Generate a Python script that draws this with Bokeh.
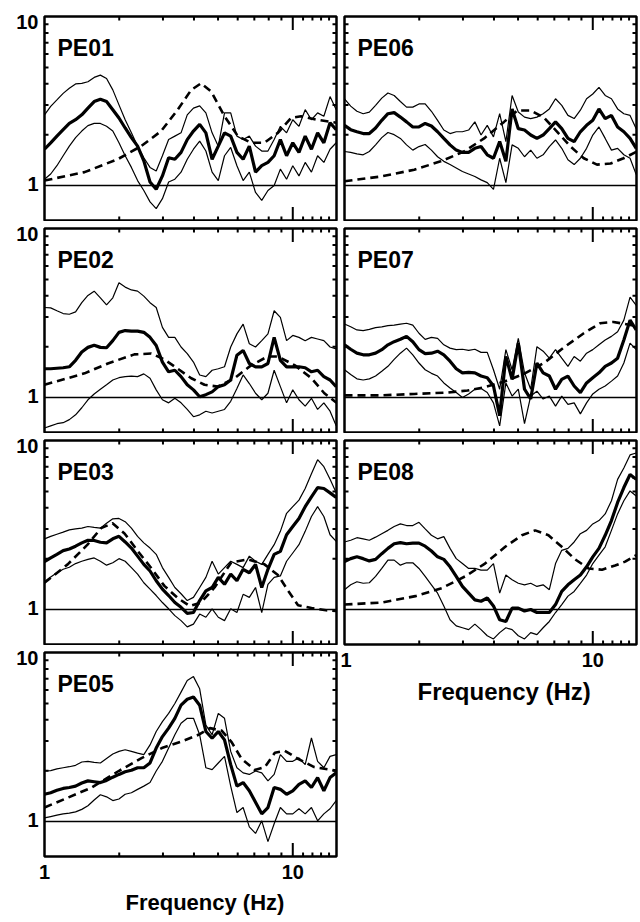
from bokeh.plotting import figure
from bokeh.layouts import column, row
from bokeh.models import (FixedTicker, Span, Label, Title, PrintfTickFormatter,
                          CustomJSTickFormatter, Range1d)
from bokeh.embed import file_html
from bokeh.resources import INLINE

FONT = "Liberation Sans"

# Common frequency grid (Hz) for the measured curves
freq = [1.0, 1.059, 1.122, 1.189, 1.259, 1.334, 1.413, 1.496, 1.585, 1.679,
        1.778, 1.884, 1.995, 2.113, 2.239, 2.371, 2.512, 2.661, 2.818, 2.985,
        3.162, 3.35, 3.548, 3.758, 3.981, 4.217, 4.467, 4.732, 5.012, 5.309,
        5.623, 5.957, 6.31, 6.683, 7.079, 7.499, 7.943, 8.414, 8.913, 9.441,
        10.0, 10.59, 11.22, 11.89, 12.59, 13.34, 14.13, 14.96]

# ---------------- PE01 ----------------
pe01_mean = [1.64, 1.79, 1.96, 2.14, 2.33, 2.45, 2.62, 2.87, 3.14, 3.24, 3.14, 2.81, 2.51, 2.19, 1.92, 1.71,
             1.40, 1.05, 0.95, 1.14, 1.46, 1.43, 1.57, 1.87, 2.10, 2.30, 2.05, 1.43, 1.71, 2.05, 1.96, 1.57,
             1.43, 1.71, 1.20, 1.31, 1.37, 1.50, 1.87, 1.50, 1.79, 1.57, 1.96, 1.64, 2.05, 1.79, 2.35, 2.14]
pe01_upper = [2.62, 2.94, 3.21, 3.51, 3.76, 3.99, 4.02, 4.11, 4.36, 4.50, 4.30, 3.68, 3.00, 2.45, 2.05, 1.71,
              1.46, 1.28, 1.22, 1.50, 1.87, 1.96, 2.05, 2.62, 2.87, 2.96, 2.69, 2.05, 1.71, 2.69, 2.69, 1.96,
              1.87, 1.96, 1.71, 1.60, 1.60, 1.87, 2.24, 2.05, 2.45, 2.24, 2.81, 2.45, 2.69, 2.57, 3.36, 2.81]
pe01_lower = [1.09, 1.17, 1.31, 1.50, 1.71, 1.92, 2.10, 2.26, 2.33, 2.33, 2.24, 2.10, 1.79, 1.50, 1.28, 1.07,
              0.935, 0.80, 0.73, 0.836, 1.05, 1.09, 1.20, 1.43, 1.64, 1.83, 1.60, 1.20, 1.07, 1.50, 1.68, 1.31,
              1.07, 1.20, 0.91, 0.817, 0.935, 1.00, 1.25, 1.09, 1.31, 1.14, 1.37, 1.20, 1.50, 1.37, 1.64, 1.79]
pe01_th_f = [1.0, 1.45, 1.97, 2.45, 2.95, 3.44, 3.90, 4.27, 4.69, 5.31, 6.01, 6.79, 7.69, 8.71, 9.85, 10.8, 12.5, 15.0]
pe01_th = [1.07, 1.20, 1.43, 1.71, 2.10, 2.81, 3.68, 4.02, 3.60, 2.57, 1.96, 1.79, 1.79, 2.05, 2.51, 2.57, 2.45, 2.35]

# ---------------- PE02 ----------------
pe02_mean = [1.48, 1.48, 1.49, 1.50, 1.52, 1.66, 1.86, 1.98, 2.04, 1.98, 1.97, 2.17, 2.43, 2.49, 2.47, 2.47,
             2.43, 2.27, 2.03, 1.62, 1.42, 1.45, 1.33, 1.19, 1.11, 1.01, 1.04, 1.08, 1.16, 1.19, 1.27, 1.78,
             1.90, 1.59, 1.52, 1.52, 1.59, 2.27, 1.66, 1.52, 1.52, 1.52, 1.50, 1.42, 1.45, 1.33, 1.27, 1.16]
pe02_upper = [3.41, 3.39, 3.26, 3.14, 3.11, 3.21, 3.64, 4.02, 4.26, 3.89, 3.53, 3.89, 4.77, 4.50, 4.33, 4.26,
              3.98, 3.64, 3.41, 2.60, 2.27, 2.27, 1.99, 1.82, 1.62, 1.36, 1.33, 1.45, 1.48, 1.52, 1.99, 2.38,
              2.72, 2.08, 1.99, 2.17, 2.38, 3.26, 2.98, 2.17, 2.33, 2.27, 2.17, 2.27, 2.22, 2.17, 1.99, 1.94]
pe02_lower = [0.66, 0.68, 0.70, 0.71, 0.74, 0.79, 0.87, 0.97, 1.05, 1.12, 1.19, 1.27, 1.31, 1.33, 1.34, 1.33,
              1.38, 1.30, 1.11, 0.97, 0.93, 0.99, 0.93, 0.85, 0.77, 0.79, 0.83, 0.81, 0.83, 0.85, 0.95, 1.13,
              1.36, 1.21, 1.06, 0.97, 1.06, 1.45, 1.16, 0.93, 1.11, 0.97, 0.89, 0.99, 0.85, 0.93, 0.83, 0.68]
pe02_th_f = [1.0, 1.45, 1.80, 2.30, 2.69, 3.04, 3.44, 3.90, 4.41, 4.99, 5.82, 6.79, 7.93, 8.71, 10.2, 11.9, 13.4, 15.0]
pe02_th = [1.19, 1.39, 1.59, 1.80, 1.82, 1.68, 1.48, 1.30, 1.19, 1.16, 1.30, 1.55, 1.75, 1.75, 1.55, 1.30, 1.06, 0.93]

# ---------------- PE03 ----------------
pe03_mean = [1.92, 2.02, 2.12, 2.23, 2.28, 2.37, 2.48, 2.57, 2.56, 2.50, 2.48, 2.62, 2.71, 2.51, 2.31, 2.07,
             1.85, 1.69, 1.48, 1.32, 1.21, 1.10, 1.03, 0.95, 0.96, 1.13, 1.29, 1.35, 1.55, 1.41, 1.62, 1.48,
             1.73, 1.65, 1.85, 1.35, 1.73, 2.12, 2.21, 2.77, 3.10, 3.46, 4.06, 4.64, 5.26, 5.20, 4.90, 4.60]
pe03_upper = [2.62, 2.71, 2.79, 2.87, 2.96, 3.00, 3.03, 3.10, 3.06, 3.03, 3.24, 3.44, 3.46, 3.31, 3.03, 2.71,
              2.48, 2.31, 2.12, 1.77, 1.55, 1.35, 1.24, 1.13, 1.18, 1.35, 1.55, 1.93, 1.62, 1.77, 1.93, 1.85,
              1.77, 2.07, 1.93, 1.85, 2.12, 2.42, 2.90, 3.71, 4.06, 4.44, 5.20, 6.35, 7.70, 7.00, 5.90, 4.90]
pe03_lower = [1.46, 1.56, 1.65, 1.73, 1.78, 1.87, 1.93, 1.98, 2.02, 1.93, 1.83, 1.89, 2.00, 1.93, 1.77, 1.62,
              1.44, 1.32, 1.21, 1.10, 1.01, 0.92, 0.86, 0.79, 0.82, 0.94, 0.90, 1.01, 0.90, 0.86, 1.01, 0.96,
              1.23, 1.18, 1.35, 0.96, 1.41, 1.55, 1.58, 1.93, 2.16, 2.42, 2.90, 3.55, 4.06, 3.55, 2.77, 2.53]
pe03_th_f = [1.0, 1.24, 1.49, 1.69, 1.88, 2.10, 2.38, 2.69, 3.04, 3.44, 3.84, 4.27, 4.84, 5.65, 6.59, 7.69,
             8.71, 9.55, 10.5, 11.9, 13.6, 15.0]
pe03_th = [1.44, 1.85, 2.42, 3.03, 3.24, 2.82, 2.21, 1.76, 1.38, 1.17, 1.05, 1.10, 1.35, 1.90, 1.98, 1.85,
           1.60, 1.30, 1.06, 1.02, 0.99, 0.98]

# ---------------- PE05 ----------------
pe05_mean = [1.45, 1.48, 1.53, 1.57, 1.59, 1.62, 1.69, 1.74, 1.72, 1.70, 1.75, 1.83, 1.90, 1.97, 2.01, 2.08,
             2.08, 2.22, 2.72, 3.18, 3.57, 4.08, 4.88, 5.29, 5.45, 4.88, 3.41, 3.11, 3.41, 3.04, 2.17, 1.62,
             1.70, 1.52, 1.30, 1.11, 1.21, 1.59, 1.55, 1.45, 1.52, 1.66, 1.74, 1.59, 1.82, 1.52, 1.82, 1.94]
pe05_upper = [1.99, 2.00, 2.05, 2.08, 2.11, 2.15, 2.25, 2.27, 2.24, 2.22, 2.36, 2.51, 2.60, 2.66, 2.60, 2.54,
              2.49, 2.84, 3.41, 3.90, 4.36, 4.99, 5.83, 6.83, 7.20, 6.10, 3.72, 3.26, 4.36, 4.08, 2.60, 2.08,
              1.94, 1.90, 1.99, 1.94, 1.74, 1.90, 2.49, 2.27, 2.27, 2.38, 2.17, 3.12, 2.27, 2.08, 2.43, 2.49]
pe05_lower = [1.05, 1.07, 1.09, 1.11, 1.12, 1.14, 1.18, 1.24, 1.34, 1.44, 1.40, 1.33, 1.36, 1.45, 1.48, 1.55,
              1.62, 1.70, 1.99, 2.27, 2.72, 3.26, 3.81, 4.08, 4.08, 3.26, 2.08, 2.03, 2.22, 2.43, 1.62, 1.13,
              1.21, 0.93, 0.85, 1.01, 0.76, 0.97, 1.21, 1.11, 1.11, 1.19, 1.11, 1.21, 1.01, 1.11, 1.19, 1.33]
pe05_th_f = [1.0, 1.25, 1.55, 1.99, 2.47, 2.97, 3.57, 4.17, 4.64, 5.17, 5.67, 6.22, 7.03, 7.72, 8.47, 9.29,
             10.5, 12.2, 14.96]
pe05_th = [1.21, 1.39, 1.59, 1.99, 2.38, 2.72, 2.98, 3.26, 3.57, 3.45, 2.95, 2.35, 2.02, 2.10, 2.55, 2.62,
           2.35, 2.10, 2.00]

# ---------------- PE06 ----------------
pe06_mean = [2.27, 2.14, 2.08, 2.03, 2.03, 2.19, 2.43, 2.66, 2.70, 2.54, 2.38, 2.22, 2.22, 2.33, 2.25, 2.08,
             1.90, 1.74, 1.62, 1.57, 1.57, 1.66, 1.70, 1.52, 1.45, 1.82, 1.39, 2.84, 2.17, 2.13, 1.99, 1.90,
             1.99, 2.17, 2.38, 2.17, 1.90, 1.82, 2.08, 2.27, 2.43, 2.84, 2.49, 2.60, 2.22, 2.08, 1.90, 1.66]
pe06_upper = [3.26, 2.95, 2.75, 2.66, 2.72, 2.98, 3.29, 3.53, 3.41, 3.14, 2.91, 2.91, 3.04, 3.04, 2.75, 2.43,
              2.13, 2.03, 2.08, 2.08, 2.13, 2.38, 1.99, 2.27, 1.94, 2.66, 1.82, 3.41, 2.72, 2.54, 2.49, 2.54,
              2.66, 2.84, 3.26, 2.98, 2.60, 2.49, 2.79, 3.26, 3.48, 3.81, 3.41, 3.26, 2.84, 2.66, 2.60, 2.17]
pe06_lower = [1.59, 1.57, 1.54, 1.52, 1.59, 1.74, 1.92, 2.06, 2.00, 1.90, 1.74, 1.62, 1.70, 1.75, 1.62, 1.48,
              1.39, 1.33, 1.27, 1.21, 1.17, 1.13, 1.08, 1.04, 0.95, 1.45, 1.04, 1.74, 1.66, 1.48, 1.62, 1.45,
              1.52, 1.70, 1.86, 1.66, 1.42, 1.33, 1.45, 1.66, 1.99, 2.22, 1.90, 1.62, 1.66, 1.52, 1.45, 1.16]
pe06_th_f = [1.0, 1.40, 1.91, 2.44, 3.03, 3.65, 4.39, 4.97, 5.62, 6.36, 7.19, 8.13, 9.20, 10.4, 11.8, 13.3, 14.96]
pe06_th = [1.06, 1.13, 1.24, 1.39, 1.59, 1.90, 2.38, 2.78, 2.78, 2.52, 2.08, 1.70, 1.45, 1.33, 1.35, 1.45, 1.58]

# ---------------- PE07 ----------------
pe07_mean = [2.05, 1.93, 1.83, 1.79, 1.79, 1.83, 1.92, 2.05, 2.14, 2.21, 2.30, 2.14, 1.92, 1.82, 1.83, 1.88,
             1.79, 1.64, 1.48, 1.40, 1.41, 1.40, 1.34, 1.31, 1.17, 0.78, 1.75, 1.28, 2.10, 1.12, 0.98, 1.60,
             1.40, 1.34, 1.12, 1.28, 1.34, 1.17, 1.07, 1.22, 1.31, 1.40, 1.53, 1.60, 1.71, 2.19, 2.87, 2.51]
pe07_upper = [2.72, 2.62, 2.51, 2.49, 2.53, 2.59, 2.62, 2.66, 2.68, 2.72, 2.75, 2.68, 2.40, 2.21, 2.27, 2.24,
              2.05, 1.96, 1.92, 1.93, 1.90, 1.93, 1.85, 1.85, 1.46, 1.12, 1.92, 1.46, 2.24, 1.40, 1.12, 2.00,
              1.88, 1.71, 1.92, 1.71, 1.53, 1.75, 1.64, 1.83, 1.92, 2.05, 2.19, 2.30, 2.45, 2.87, 3.93, 3.51]
pe07_lower = [1.46, 1.37, 1.29, 1.27, 1.29, 1.34, 1.43, 1.53, 1.68, 1.83, 1.96, 1.79, 1.60, 1.46, 1.39, 1.34,
              1.22, 1.14, 1.07, 1.00, 1.05, 1.12, 1.13, 1.07, 0.93, 0.68, 1.22, 1.02, 1.12, 0.70, 1.02, 1.09,
              0.98, 1.02, 0.89, 1.02, 0.91, 0.93, 0.80, 0.93, 1.05, 1.12, 1.17, 1.25, 1.34, 1.60, 2.10, 1.92]
pe07_th_f = [1.0, 1.40, 1.91, 2.60, 3.13, 3.65, 4.39, 5.28, 6.36, 7.65, 9.20, 10.7, 12.1, 14.96]
pe07_th = [1.03, 1.03, 1.05, 1.07, 1.10, 1.15, 1.24, 1.38, 1.60, 1.98, 2.40, 2.75, 2.80, 2.65]

# ---------------- PE08 ----------------
pe08_mean = [1.92, 2.00, 2.05, 2.00, 1.94, 1.98, 2.14, 2.30, 2.45, 2.49, 2.45, 2.47, 2.47, 2.37, 2.22, 2.05,
             1.98, 1.79, 1.57, 1.37, 1.25, 1.14, 1.12, 1.17, 1.05, 0.87, 0.85, 1.02, 1.02, 0.98, 1.00, 0.96,
             0.96, 0.96, 1.07, 1.28, 1.40, 1.50, 1.60, 1.79, 2.05, 2.30, 2.75, 3.36, 4.30, 5.27, 6.29, 5.89]
pe08_upper = [2.51, 2.57, 2.66, 2.62, 2.57, 2.68, 2.81, 2.94, 3.10, 3.21, 3.14, 3.14, 3.28, 3.00, 2.75, 2.62,
              2.70, 2.30, 2.00, 1.87, 1.75, 1.75, 1.71, 1.71, 1.87, 1.25, 1.60, 1.50, 1.43, 1.40, 1.43, 1.37,
              1.40, 1.31, 1.87, 2.24, 2.30, 2.51, 2.81, 2.94, 3.21, 3.36, 3.68, 4.40, 5.89, 6.88, 8.22, 8.43]
pe08_lower = [1.31, 1.40, 1.46, 1.43, 1.44, 1.57, 1.75, 1.96, 1.96, 1.83, 1.89, 1.89, 1.75, 1.57, 1.40, 1.25,
              1.05, 0.87, 0.80, 0.78, 0.76, 0.82, 0.76, 0.70, 0.67, 0.73, 0.78, 0.76, 0.70, 0.67, 0.73, 0.71,
              0.78, 0.85, 0.96, 1.07, 1.20, 1.28, 1.43, 1.60, 1.87, 2.10, 2.35, 2.94, 3.68, 4.40, 5.03, 4.70]
pe08_th_f = [1.0, 1.41, 1.93, 2.47, 3.06, 3.68, 4.44, 5.18, 5.86, 6.63, 7.50, 8.49, 9.61, 10.9, 12.3, 13.5, 14.96]
pe08_th = [1.07, 1.10, 1.20, 1.34, 1.57, 1.87, 2.35, 2.75, 2.94, 2.75, 2.35, 1.98, 1.75, 1.72, 1.82, 1.92, 2.10]

# axis definitions
x_lo, x_hi = 1, 15
y_lo, y_hi = 0.621, 10
x_major = [1, 10]
x_minor = [2, 3, 4, 5, 6, 7, 8, 9, 11, 12, 13, 14]
y_minor = [2, 3, 4, 5, 6, 7, 8, 9]
x_title = "Frequency (Hz)"

FW, FH = 292, 204
PX_PER_DEC_X = FW / 1.1761
PX_PER_DEC_Y = FH / 1.2069


def x_off(px):
    """x position px pixels to the right of the frame's left edge"""
    return x_lo * 10 ** (px / PX_PER_DEC_X)


def y_off(px):
    """y position px pixels above the frame's bottom edge"""
    return y_lo * 10 ** (px / PX_PER_DEC_Y)


def add_ticks(p):
    tick = dict(marker="dash", line_color="black", line_width=2)
    # x minor ticks, top and bottom edges (half of each dash is clipped by the frame)
    p.scatter(x_minor, [y_hi] * len(x_minor), size=8, angle=1.5708, **tick)
    p.scatter(x_minor, [y_lo] * len(x_minor), size=8, angle=1.5708, **tick)
    # long major tick at 10 Hz
    p.scatter([x_major[1]] * 2, [y_hi, y_lo], size=27, angle=1.5708, **tick)
    # y minor ticks, left and right edges
    p.scatter([x_lo] * len(y_minor), y_minor, size=8, **tick)
    p.scatter([x_hi] * len(y_minor), y_minor, size=8, **tick)


def make_panel(name, mean, upper, lower, th_f, th_v, left_labels, bottom_labels,
               b_top, b_bottom, b_left, b_right, title_offset=0, title_standoff=6,
               title_size="22px"):
    p = figure(x_axis_type="log", y_axis_type="log",
               x_range=Range1d(x_lo, x_hi), y_range=Range1d(y_lo, y_hi),
               frame_width=FW, frame_height=FH,
               output_backend="svg", toolbar_location=None,
               min_border_top=b_top, min_border_bottom=b_bottom,
               min_border_left=b_left, min_border_right=b_right)
    p.outline_line_color = "black"
    p.outline_line_width = 2.5
    p.xgrid.visible = False
    p.ygrid.visible = False
    p.background_fill_color = "white"
    p.border_fill_color = "white"

    xa = p.xaxis[0]
    if bottom_labels:
        xa.ticker = FixedTicker(ticks=x_major, minor_ticks=[])
        xa.formatter = PrintfTickFormatter(format="%d")
        xa.axis_line_color = None
        xa.major_tick_in = 0
        xa.major_tick_out = 0
        xa.minor_tick_in = 0
        xa.minor_tick_out = 0
        xa.major_label_standoff = 8
        xa.major_label_text_font = FONT
        xa.major_label_text_font_style = "bold"
        xa.major_label_text_font_size = "20px"
        xa.major_label_text_color = "black"
        p.add_layout(Title(text=x_title, align="left", offset=title_offset, standoff=title_standoff,
                           text_font=FONT, text_font_style="bold", text_font_size=title_size,
                           text_color="black"), "below")
    else:
        xa.visible = False

    ya = p.yaxis[0]
    if left_labels:
        # label anchors sit a few pixels inside the frame, as in the original figure
        ya.ticker = FixedTicker(ticks=[y_off(35 + 1.5), y_off(FH - 5.5)], minor_ticks=[])
        ya.formatter = CustomJSTickFormatter(code="return tick > 5 ? '10' : '1';")
        ya.axis_line_color = None
        ya.major_tick_in = 0
        ya.major_tick_out = 0
        ya.minor_tick_in = 0
        ya.minor_tick_out = 0
        ya.major_label_standoff = 6
        ya.major_label_text_font = FONT
        ya.major_label_text_font_style = "bold"
        ya.major_label_text_font_size = "20px"
        ya.major_label_text_color = "black"
    else:
        ya.visible = False

    p.add_layout(Span(location=1, dimension="width", line_color="black", line_width=1.6))
    add_ticks(p)
    p.line(freq, upper, line_color="black", line_width=1.2)
    p.line(freq, lower, line_color="black", line_width=1.2)
    p.line(th_f, th_v, line_color="black", line_width=2.6, line_dash="8 5")
    p.line(freq, mean, line_color="black", line_width=3.2)

    p.add_layout(Label(x=x_off(13), y=y_off(FH - 31), text=name, text_font=FONT,
                       text_font_style="bold", text_font_size="23px", text_color="black",
                       text_align="left", text_baseline="alphabetic"))
    return p


LB, LR = 44, 4   # left column borders
RB, RR = 4, 3    # right column borders

pe01 = make_panel("PE01", pe01_mean, pe01_upper, pe01_lower, pe01_th_f, pe01_th, True, False, 16, 1, LB, LR)
pe02 = make_panel("PE02", pe02_mean, pe02_upper, pe02_lower, pe02_th_f, pe02_th, True, False, 7, 1, LB, LR)
pe03 = make_panel("PE03", pe03_mean, pe03_upper, pe03_lower, pe03_th_f, pe03_th, True, False, 7, 1, LB, LR)
pe05 = make_panel("PE05", pe05_mean, pe05_upper, pe05_lower, pe05_th_f, pe05_th, True, True, 7, 60, LB, LR,
                  title_offset=81, title_standoff=12, title_size="22px")

pe06 = make_panel("PE06", pe06_mean, pe06_upper, pe06_lower, pe06_th_f, pe06_th, False, False, 16, 1, RB, RR)
pe07 = make_panel("PE07", pe07_mean, pe07_upper, pe07_lower, pe07_th_f, pe07_th, False, False, 7, 1, RB, RR)
pe08 = make_panel("PE08", pe08_mean, pe08_upper, pe08_lower, pe08_th_f, pe08_th, False, True, 7, 60, RB, RR,
                  title_offset=73, title_standoff=13, title_size="24px")

layout = row(column(pe01, pe02, pe03, pe05), column(pe06, pe07, pe08))

open("out.html", "w").write(file_html(layout, INLINE))
